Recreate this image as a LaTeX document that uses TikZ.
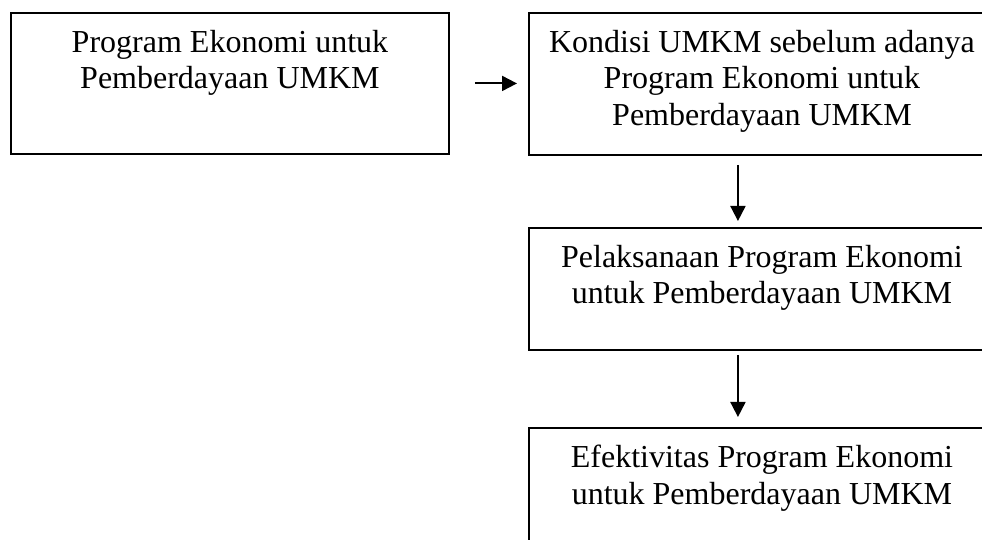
\documentclass[tikz,border=0pt]{standalone}
\usepackage{fontspec}
\setmainfont{Liberation Serif}
\usetikzlibrary{arrows.meta,calc}
\begin{document}
\begin{tikzpicture}[x=1pt,y=1pt,
  box/.style={draw=black,line width=1.9pt,anchor=north west,inner sep=0pt},
  txt/.style={anchor=north,align=center,inner sep=0pt,font=\fontsize{32}{36.5}\selectfont},
  arr/.style={line width=1.9pt,-{Triangle[length=15pt,width=15pt]}}]
\useasboundingbox (0,0) rectangle (982,540);
\clip (0,0) rectangle (982,540);
\fill[white] (0,0) rectangle (982,540);
% boxes (y measured downward from top: y_up = 540 - y_down)
\node[box,minimum width=438pt,minimum height=141pt] (a) at (10,528) {};
\node[box,minimum width=466pt,minimum height=142pt] (r1) at (528,528) {};
\node[box,minimum width=466pt,minimum height=122pt] (r2) at (528,313) {};
\node[box,minimum width=466pt,minimum height=140pt] (r3) at (528,113) {};
% texts
\node[txt] (ta) at ($(a.north)+(0,-18)$) {Program Ekonomi untuk\\Pemberdayaan UMKM};
\node[txt] (t1) at ($(r1.north)+(0,-18)$) {Kondisi UMKM sebelum adanya\\Program Ekonomi untuk\\Pemberdayaan UMKM};
\node[txt] (t2) at ($(r2.north)+(0,-18)$) {Pelaksanaan Program Ekonomi\\untuk Pemberdayaan UMKM};
\node[txt] (t3) at ($(r3.north)+(0,-18)$) {Efektivitas Program Ekonomi\\untuk Pemberdayaan UMKM};
% arrows
\draw[arr] ([xshift=25pt]a.east) -- ([xshift=-11pt]r1.west |- a.east);
\draw[arr] ([xshift=-24pt,yshift=-9pt]r1.south) -- ([xshift=-24pt,yshift=6pt]r2.north);
\draw[arr] ([xshift=-24pt,yshift=-4pt]r2.south) -- ([xshift=-24pt,yshift=10pt]r3.north);
\end{tikzpicture}
\end{document}
